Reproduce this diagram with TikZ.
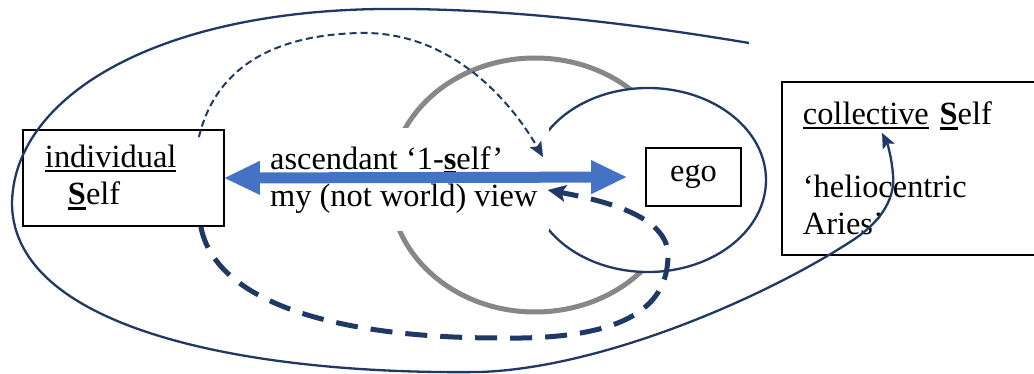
\documentclass[tikz,border=0pt]{standalone}
\usepackage{fontspec}
\setmainfont{Liberation Serif}
\usepackage{tikz}
\usetikzlibrary{arrows.meta,shapes.geometric}
\definecolor{inkblue}{HTML}{1F3864}
\definecolor{viewblue}{HTML}{4472C4}
\definecolor{ringgray}{HTML}{878787}
\newcommand{\undr}[2][2pt]{\setbox0=\hbox{#2}\rlap{\rule[\dimexpr-2pt-#1\relax]{\wd0}{#1}}\box0\relax}

\begin{document}
\begin{tikzpicture}[x=1pt,y=-1pt,
    every node/.style={font=\fontsize{32.4pt}{37pt}\selectfont},
    selfbox/.style={draw=black,line width=1.8pt,align=left,inner ysep=0pt},
    navyline/.style={draw=inkblue,line width=2.3pt},
    viewarrow/.style={viewblue,line width=11pt,
      {Triangle[length=35pt,width=34pt,line width=0.1pt]}-{Triangle[length=35pt,width=34pt,line width=0.1pt]}},
    thinflow/.style={inkblue,line width=2pt,dash pattern=on 7pt off 4pt,
      -{Stealth[length=15pt,width=13pt,inset=3pt,line width=0.1pt]}},
    thickflow/.style={inkblue,line width=5pt,dash pattern=on 22pt off 13pt,
      -{Stealth[length=18pt,width=17pt,inset=4pt,line width=0.1pt]}}]
    \useasboundingbox (0,0) rectangle (1034,374);

    % rings behind the text
    \draw[ringgray,line width=5pt] (535,185) ellipse [x radius=145, y radius=127];
    \node[navyline,ellipse,fill=white,inner sep=0pt,minimum width=236pt,minimum height=184pt] (egoring) at (648,180) {};
    \node[fill=white,anchor=north west,align=left,inner xsep=12pt,inner ysep=18pt] (view) at (258,128)
      {ascendant ‘1-\undr{\textbf{s}}elf’\\my (not world) view};

    % boxes
    \node[selfbox,text width=157pt,inner xsep=22pt,minimum height=96pt] (ind) at (123.5,178)
      {\undr{individual}\\\hspace*{23pt}\undr[3.5pt]{\textbf{S}}elf};
    \node[selfbox,minimum width=95pt,minimum height=58pt] (ego) at (693.5,177) {ego};
    \node[selfbox,anchor=north west,text width=220pt,inner xsep=21pt,minimum height=173pt] (coll) at (781,81)
      {\undr{collective} \undr[3.5pt]{\textbf{S}}elf\\[36pt]‘heliocentric\\Aries’};

    \coordinate (aimtop) at (543,157);
    \coordinate (aimlow) at (548,190);
    \coordinate (loopstart) at (749,43);
    \coordinate (loopend) at (882,133);

    \draw[viewarrow,shorten >=19pt] (ind.east) -- (ego.west);
    \draw[thinflow] ([xshift=-26pt,yshift=-8pt]ind.north east)
      .. controls (215,70) and (270,35) .. (360,33)
      .. controls (450,31) and (510,100) .. (aimtop);
    \draw[thickflow] ([xshift=-24pt]ind.south east)
      .. controls (215,300) and (330,338) .. (500,338)
      .. controls (620,340) and (668,310) .. (668,255)
      .. controls (668,215) and (600,200) .. (aimlow);
    \draw[navyline,-{Stealth[length=15pt,width=13pt,inset=3pt,line width=0.1pt]}] (loopstart)
      .. controls (600,18) and (480,8) .. (380,9)
      .. controls (150,12) and (12,100) .. (12,205)
      .. controls (15,330) and (250,375) .. (480,372)
      .. controls (600,368) and (760,300) .. (850,242)
      .. controls (885,220) and (895,195) .. (893,175)
      .. controls (892,160) and (888,145) .. (loopend);
  \end{tikzpicture}
\end{document}
